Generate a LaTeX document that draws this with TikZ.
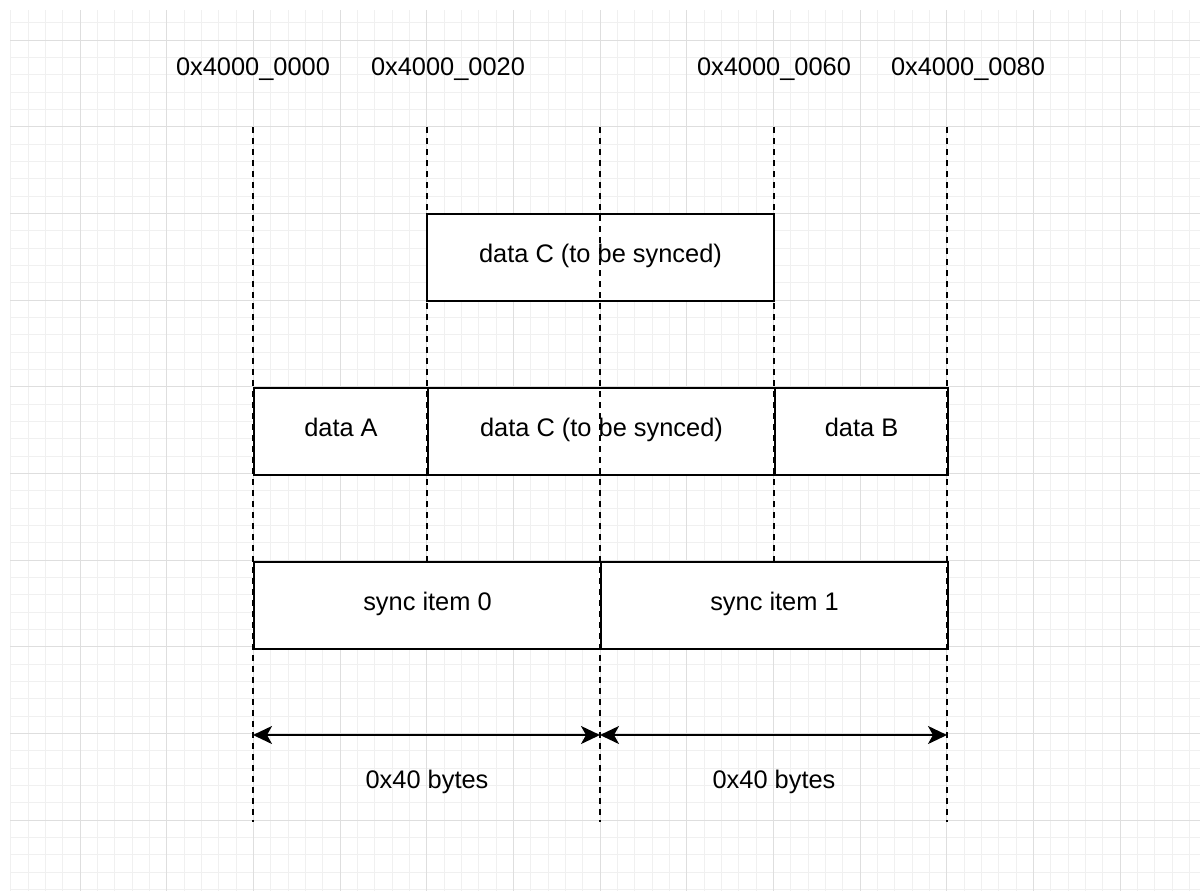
\documentclass[tikz,border=0pt]{standalone}
\usepackage{fontspec}
\setmainfont{Liberation Sans}
\usetikzlibrary{arrows.meta}
\definecolor{gridminor}{RGB}{240,240,240}
\definecolor{gridmajor}{RGB}{222,222,222}
\tikzset{
  membox/.style={draw=black, line width=1pt, fill=white, minimum height=43.5pt, inner sep=0pt, text height=0.72em, text depth=0.21em, font=\fontsize{12.7pt}{15pt}\selectfont},
  lbl/.style={inner sep=0pt, text height=0.72em, text depth=0.21em, font=\fontsize{12.7pt}{15pt}\selectfont},
  guide/.style={draw=black, line width=1pt, dash pattern=on 3pt off 2.5pt},
  span/.style={draw=black, line width=1pt, {Stealth[length=9.5pt,width=9pt,inset=2.5pt]}-{Stealth[length=9.5pt,width=9pt,inset=2.5pt]}}
}
\begin{document}
\begin{tikzpicture}[x=0.5pt,y=-0.5pt]
\useasboundingbox (0,0) rectangle (1200,891);
% background grid
\begin{scope}
  \clip (10,10) rectangle (1200,891);
  \foreach \k in {0,...,69} {
    \draw[gridminor, line width=0.5pt] ({10.667+17.3333*\k},10) -- ({10.667+17.3333*\k},891);
  }
  \foreach \k in {0,...,51} {
    \draw[gridminor, line width=0.5pt] (10,{5.333+17.3333*\k}) -- (1200,{5.333+17.3333*\k});
  }
  \foreach \k in {0,...,13} {
    \draw[gridmajor, line width=0.5pt] ({80+86.6667*\k},10) -- ({80+86.6667*\k},891);
  }
  \foreach \k in {0,...,9} {
    \draw[gridmajor, line width=0.5pt] (10,{40+86.6667*\k}) -- (1200,{40+86.6667*\k});
  }
\end{scope}

% address labels
\node[lbl] (a0) at (253,70) {0x4000\_0000};
\node[lbl] (a20) at (448,70) {0x4000\_0020};
\node[lbl] (a60) at (774,70) {0x4000\_0060};
\node[lbl] (a80) at (968,70) {0x4000\_0080};

% boxes
\node[membox, minimum width=173.5pt] (ctop) at (600.5,257) {data C (to be synced)};
\node[membox, minimum width=87pt] (da) at (253,387) [anchor=north west] {data A};
\node[membox, minimum width=173.5pt] (dc) at (427,387) [anchor=north west] {data C (to be synced)};
\node[membox, minimum width=86.5pt] (db) at (774,387) [anchor=north west] {data B};
\node[membox, minimum width=173.5pt] (s0) at (253,561) [anchor=north west] {sync item 0};
\node[membox, minimum width=173.5pt] (s1) at (600,561) [anchor=north west] {sync item 1};

% guide coordinates
\coordinate (g0t) at (253,127);  \coordinate (g0b) at (253,822);
\coordinate (g1t) at (427,127);  \coordinate (g1b) at (427,561);
\coordinate (g2t) at (600,127);  \coordinate (g2b) at (600,822);
\coordinate (g3t) at (774,127);  \coordinate (g3b) at (774,561);
\coordinate (g4t) at (947,127);  \coordinate (g4b) at (947,822);

\draw[guide] (g0t) -- (g0b);
\draw[guide] (g1t) -- (g1b);
\draw[guide] (g2t) -- (g2b);
\draw[guide] (g3t) -- (g3b);
\draw[guide] (g4t) -- (g4b);

% spans
\coordinate (p0) at (253,735);
\coordinate (p1) at (600,735);
\coordinate (p2) at (947,735);
\draw[span] (p0) -- (p1);
\draw[span] (p1) -- (p2);

\node[lbl] (b0) at (427,783) {0x40 bytes};
\node[lbl] (b1) at (774,783) {0x40 bytes};
\end{tikzpicture}
\end{document}
